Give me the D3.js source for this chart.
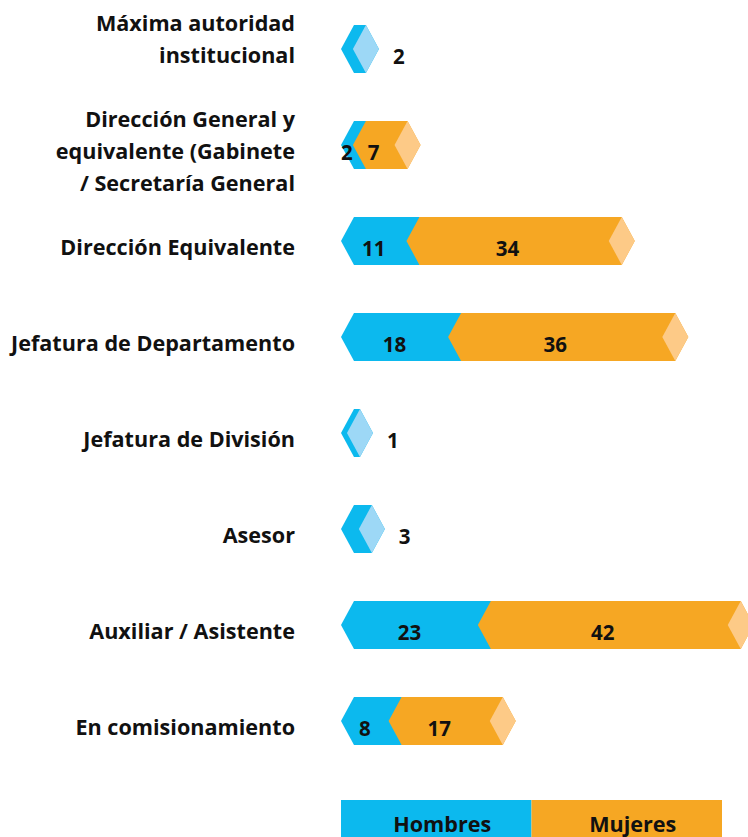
<!DOCTYPE html>
<html>
<head>
<meta charset="utf-8">
<script src="https://cdn.jsdelivr.net/npm/d3@7"></script>
<style>
  body { margin: 0; background: #fff; }
  text { font-family: "Open Sans", sans-serif; font-weight: 700; fill: #111; }
</style>
</head>
<body>
<script>
var categories = [
  ["Máxima autoridad", "institucional"],
  ["Dirección General y", "equivalente (Gabinete", "/ Secretaría General"],
  ["Dirección Equivalente"],
  ["Jefatura de Departamento"],
  ["Jefatura de División"],
  ["Asesor"],
  ["Auxiliar / Asistente"],
  ["En comisionamiento"]
];
var hombres = [2, 2, 11, 18, 1, 3, 23, 8];
var mujeres = [0, 7, 34, 36, 0, 0, 42, 17];
var seriesNames = ["Hombres", "Mujeres"];

var width = 748, height = 837;
var colors = { Hombres: "#0cb9ee", Mujeres: "#f6a723" };
var lightColors = { Hombres: "#9dd8f6", Mujeres: "#fdca87" };

var svg = d3.select("body").append("svg")
    .attr("width", width)
    .attr("height", height);

var x = d3.scaleLinear().domain([0, 65]).range([354, 354 + 65 * 5.95]);
var y = d3.scaleBand().domain(d3.range(categories.length)).range([1, 769]);
var bh = 48, tip = 13;

function hexPath(x0, x1, c) {
  return "M" + (x0 - tip) + "," + c +
    "L" + x0 + "," + (c - bh / 2) +
    "L" + x1 + "," + (c - bh / 2) +
    "L" + (x1 + tip) + "," + c +
    "L" + x1 + "," + (c + bh / 2) +
    "L" + x0 + "," + (c + bh / 2) + "Z";
}
function capPath(x1, c) {
  return "M" + (x1 - tip) + "," + c +
    "L" + x1 + "," + (c - bh / 2) +
    "L" + (x1 + tip) + "," + c +
    "L" + x1 + "," + (c + bh / 2) + "Z";
}

var rows = categories.map(function(lines, i) {
  return { lines: lines, h: hombres[i], m: mujeres[i], c: y(i) + y.bandwidth() / 2 };
});

var row = svg.selectAll("g.row")
    .data(rows)
  .enter().append("g")
    .attr("class", "row");

// category labels
row.append("text")
    .attr("text-anchor", "end")
    .style("font-size", "21.6px")
    .each(function(d) {
      var t = d3.select(this);
      var start = d.c + 14 - (d.lines.length > 1 ? 32 : 0);
      d.lines.forEach(function(l, j) {
        t.append("tspan").attr("x", 295).attr("y", start + j * 32).text(l);
      });
    });

// hombres segment
row.append("path")
    .attr("fill", colors.Hombres)
    .attr("d", function(d) { return hexPath(x(0), x(d.h), d.c); });

// mujeres segment
row.filter(function(d) { return d.m > 0; }).append("path")
    .attr("fill", colors.Mujeres)
    .attr("d", function(d) { return hexPath(x(d.h), x(d.h + d.m), d.c); });

// light cap at the end
row.append("path")
    .attr("fill", function(d) { return d.m > 0 ? lightColors.Mujeres : lightColors.Hombres; })
    .attr("d", function(d) { return capPath(x(d.h + d.m), d.c); });

// value labels
row.each(function(d) {
  var g = d3.select(this);
  if (d.m > 0) {
    g.append("text")
        .attr("text-anchor", "middle")
        .style("font-size", "20.5px")
        .attr("x", (x(0) - tip + x(d.h) - tip) / 2)
        .attr("y", d.c + 15)
        .text(d.h);
    g.append("text")
        .attr("text-anchor", "middle")
        .style("font-size", "20.5px")
        .attr("x", (x(d.h) - tip + x(d.h + d.m) - tip) / 2)
        .attr("y", d.c + 15)
        .text(d.m);
  } else {
    g.append("text")
        .attr("text-anchor", "start")
        .style("font-size", "20.5px")
        .attr("x", x(d.h) + tip + 14)
        .attr("y", d.c + 15)
        .text(d.h);
  }
});

// legend
var lx = d3.scaleBand().domain(seriesNames).range([341, 722]);
var legend = svg.selectAll("g.legend")
    .data(seriesNames)
  .enter().append("g")
    .attr("class", "legend");
legend.append("rect")
    .attr("x", function(d) { return lx(d); })
    .attr("y", 800)
    .attr("width", lx.bandwidth())
    .attr("height", 45)
    .attr("fill", function(d) { return colors[d]; });
legend.append("text")
    .attr("text-anchor", "middle")
    .style("font-size", "21.6px")
    .attr("x", function(d) { return lx(d) + lx.bandwidth() / 2 + 6; })
    .attr("y", 832)
    .text(function(d) { return d; });
</script>
</body>
</html>
